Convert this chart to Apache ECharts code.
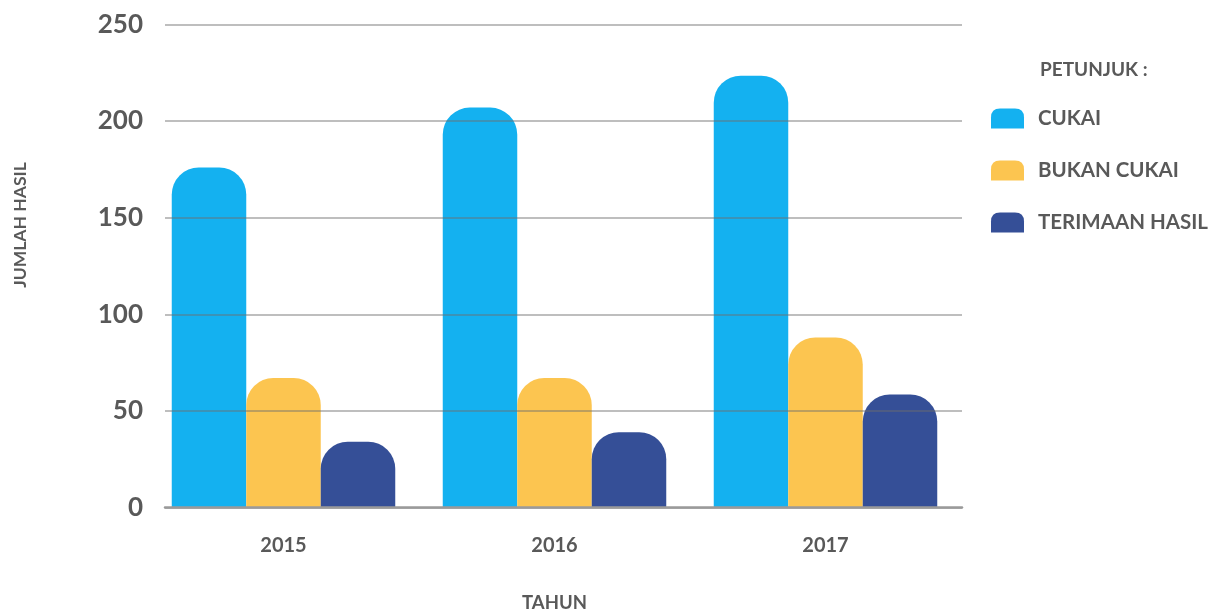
<!DOCTYPE html>
<html>
<head>
<meta charset="utf-8">
<script src="https://cdn.jsdelivr.net/npm/echarts@6/dist/echarts.min.js"></script>
<style>html,body{margin:0;padding:0;background:#fff;}#c{width:1211px;height:610px;}</style>
</head>
<body>
<div id="c"></div>
<script>
const years = ['2015', '2016', '2017'];
const cukai = [176, 207, 223.5];
const bukanCukai = [67, 67, 88];
const terimaanHasil = [34, 39, 58.5];
const seriesNames = ['CUKAI', 'BUKAN CUKAI', 'TERIMAAN HASIL'];
const yTicks = [0, 50, 100, 150, 200, 250];

const FONT = 'Lato';
const TXT = '#595959';
const colors = ['#14b1f0', '#fcc550', '#354f97'];
const icon = 'path://M0,9 Q0,0 9,0 L24,0 Q33,0 33,9 L33,20 L0,20 Z';

const chart = echarts.init(document.getElementById('c'), null, {renderer: 'canvas'});
const valuesBySeries = [cukai, bukanCukai, terimaanHasil];

chart.setOption({
  animation: false,
  backgroundColor: '#ffffff',
  color: colors,
  title: {
    text: 'PETUNJUK :',
    left: 1040, top: 60, padding: 0,
    textStyle: {fontFamily: FONT, fontWeight: 'bold', fontSize: 19, color: TXT}
  },
  legend: {
    orient: 'vertical',
    left: 991, top: 108, padding: 0,
    itemWidth: 33, itemHeight: 20, itemGap: 31,
    icon: icon,
    data: seriesNames,
    textStyle: {fontFamily: FONT, fontWeight: 'bold', fontSize: 20.5, color: TXT, padding: [0, 0, 0, 9]}
  },
  graphic: [{
    type: 'text',
    x: 20, y: 225, rotation: Math.PI / 2,
    style: {
      text: 'JUMLAH HASIL', x: 0, y: 0, align: 'center', verticalAlign: 'middle',
      font: 'bold 17.5px ' + FONT, fill: TXT
    }
  }],
  grid: [
    {left: 165, right: 249, top: 24.5, bottom: 102.5, containLabel: false, outerBoundsMode: 'none'},
    {left: 148, right: 250, top: 24.5, bottom: 102.5, containLabel: false, outerBoundsMode: 'none'}
  ],
  xAxis: [
    {
      type: 'category', gridIndex: 0, data: years, z: 5,
      axisLine: {show: true, lineStyle: {color: '#9a9a9a', width: 2.5}},
      axisTick: {show: false}, axisLabel: {show: false}, splitLine: {show: false}
    },
    {
      type: 'category', gridIndex: 1, data: years,
      axisLine: {show: false}, axisTick: {show: false},
      axisLabel: {margin: 28, fontFamily: FONT, fontWeight: 'bold', fontSize: 20, color: TXT},
      name: 'TAHUN', nameLocation: 'middle', nameGap: 86,
      nameTextStyle: {fontFamily: FONT, fontWeight: 'bold', fontSize: 18.5, color: TXT}
    }
  ],
  yAxis: [
    {
      type: 'value', gridIndex: 0, min: 0, max: 250, interval: 50, z: 5,
      axisLine: {show: false}, axisTick: {show: false},
      axisLabel: {margin: 22, fontFamily: FONT, fontWeight: 'bold', fontSize: 26, color: TXT,
        formatter: v => yTicks.includes(v) ? String(v) : ''},
      splitLine: {show: true, lineStyle: {color: 'rgba(110,110,110,0.6)', width: 1.5}}
    },
    {
      type: 'value', gridIndex: 1, min: 0, max: 250, interval: 50, show: false,
      splitLine: {show: false}
    }
  ],
  series: seriesNames.map((name, i) => ({
    name: name,
    type: 'bar',
    xAxisIndex: 1, yAxisIndex: 1,
    barWidth: 74.5,
    barGap: '0%',
    data: valuesBySeries[i],
    itemStyle: {color: colors[i], borderRadius: [27, 27, 0, 0]},
    emphasis: {disabled: true}
  }))
});
</script>
</body>
</html>
